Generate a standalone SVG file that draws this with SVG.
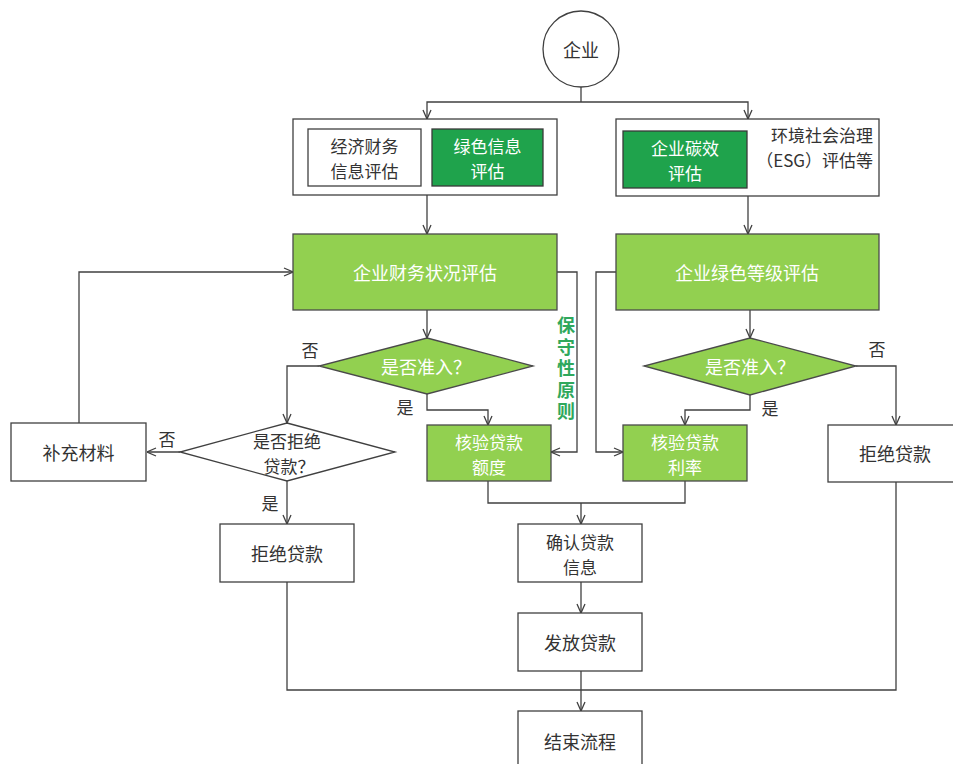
<svg xmlns="http://www.w3.org/2000/svg" width="953" height="764" viewBox="0 0 953 764">
<style>
text{font-family:"Noto Sans CJK SC","Liberation Serif",sans-serif;font-size:18px;text-anchor:middle;dominant-baseline:central}
.dk{fill:#333}
.wt{fill:#ffffff}
.two{font-size:17px}
.lbl{fill:#333;font-size:17px}
.box{fill:#ffffff;stroke:#404040;stroke-width:1.3}
.lg{fill:#92d050;stroke:#4a4a4a;stroke-width:1.3}
.dg{fill:#1fa34c;stroke:#3a3a3a;stroke-width:1.3}
.con{fill:none;stroke:#404040;stroke-width:1.3}
.arr{marker-end:url(#ah)}
.gt{fill:#2fa85c;font-weight:bold;font-size:18px;writing-mode:vertical-rl;letter-spacing:3.5px}
</style>
<defs>
<marker id="ah" markerWidth="10" markerHeight="10" viewBox="0 0 10 10" refX="10" refY="5" orient="auto" markerUnits="userSpaceOnUse">
<path d="M1,1 L10,5 L1,9" fill="none" stroke="#404040" stroke-width="1.3"/>
</marker>
</defs>
<rect width="953" height="764" fill="#ffffff"/>
<g id="connectors">
<path class="con" d="M581,87 V102"/>
<path class="con arr" d="M581,102 H427 V119"/>
<path class="con arr" d="M581,102 H748 V119"/>
<path class="con arr" d="M427,195 V234"/>
<path class="con arr" d="M748,196 V234"/>
<path class="con arr" d="M427,310 V338"/>
<path class="con arr" d="M750,310 V338"/>
<path class="con arr" d="M319,366 H287 V423"/>
<path class="con arr" d="M427,394 V410 H488 V425"/>
<path class="con arr" d="M180,452 H147"/>
<path class="con arr" d="M79,423 V272 H293"/>
<path class="con arr" d="M557,272 H577 V452 H551"/>
<path class="con arr" d="M616,272 H596 V452 H623"/>
<path class="con arr" d="M750,395 V410 H685 V425"/>
<path class="con arr" d="M856,366 H896 V425"/>
<path class="con arr" d="M287,481 V524"/>
<path class="con" d="M488,481 V503 H685 V481"/>
<path class="con arr" d="M581,503 V524"/>
<path class="con arr" d="M581,582 V613"/>
<path class="con arr" d="M581,671 V711"/>
<path class="con" d="M287,582 V690 H896 V482"/>
<text class="lbl" x="310" y="349">否</text>
<text class="lbl" x="405" y="406">是</text>
<text class="lbl" x="167" y="438">否</text>
<text class="lbl" x="270" y="502">是</text>
<text class="lbl" x="770" y="407">是</text>
<text class="lbl" x="877" y="348">否</text>
<text id="principle" class="gt" x="566" y="370">保守性原则</text>
</g>
<g id="n-enterprise">
<ellipse class="box" cx="581" cy="49" rx="38" ry="38"/>
<text class="dk" x="581" y="49">企业</text>
</g>
<g id="n-left-group">
<rect class="box" x="293" y="119" width="264" height="76"/>
</g>
<g id="n-econ">
<rect class="box" x="308" y="129" width="113" height="57"/>
<text class="dk two"><tspan x="364.5" y="145">经济财务</tspan><tspan x="364.5" y="170">信息评估</tspan></text>
</g>
<g id="n-greeninfo">
<rect class="dg" x="432" y="129" width="111" height="57"/>
<text class="wt two"><tspan x="487.5" y="145">绿色信息</tspan><tspan x="487.5" y="170">评估</tspan></text>
</g>
<g id="n-right-group">
<rect class="box" x="616" y="119" width="263" height="77"/>
<text class="dk two" style="text-anchor:end"><tspan x="873" y="134">环境社会治理</tspan><tspan x="873" y="159">（ESG）评估等</tspan></text>
</g>
<g id="n-carbon">
<rect class="dg" x="623" y="131" width="124" height="57"/>
<text class="wt two"><tspan x="685" y="147">企业碳效</tspan><tspan x="685" y="172">评估</tspan></text>
</g>
<g id="n-fin">
<rect class="lg" x="293" y="234" width="264" height="76"/>
<text class="wt" x="425" y="272">企业财务状况评估</text>
</g>
<g id="n-greenlevel">
<rect class="lg" x="616" y="234" width="263" height="76"/>
<text class="wt" x="747" y="272">企业绿色等级评估</text>
</g>
<g id="n-admit1">
<polygon class="lg" points="427,338 533,366 427,394 319,366"/>
<text class="wt" x="426" y="366">是否准入？</text>
</g>
<g id="n-admit2">
<polygon class="lg" points="750,338 856,366 750,395 644,366"/>
<text class="wt" x="750" y="366">是否准入？</text>
</g>
<g id="n-reject-q">
<polygon class="box" points="287,423 395,452 287,481 180,452"/>
<text class="dk two"><tspan x="287" y="440">是否拒绝</tspan><tspan x="289" y="465">贷款？</tspan></text>
</g>
<g id="n-supplement">
<rect class="box" x="11" y="423" width="135" height="58"/>
<text class="dk" x="78.5" y="452">补充材料</text>
</g>
<g id="n-amount">
<rect class="lg" x="427" y="425" width="124" height="56"/>
<text class="wt two"><tspan x="489" y="441">核验贷款</tspan><tspan x="489" y="466">额度</tspan></text>
</g>
<g id="n-rate">
<rect class="lg" x="623" y="425" width="124" height="56"/>
<text class="wt two"><tspan x="685" y="441">核验贷款</tspan><tspan x="685" y="466">利率</tspan></text>
</g>
<g id="n-reject-right">
<rect class="box" x="828" y="425" width="134" height="57"/>
<text class="dk" x="895" y="453">拒绝贷款</text>
</g>
<g id="n-reject-left">
<rect class="box" x="220" y="524" width="134" height="58"/>
<text class="dk" x="287" y="553">拒绝贷款</text>
</g>
<g id="n-confirm">
<rect class="box" x="518" y="524" width="124" height="58"/>
<text class="dk two"><tspan x="580" y="541">确认贷款</tspan><tspan x="580" y="566">信息</tspan></text>
</g>
<g id="n-issue">
<rect class="box" x="518" y="613" width="124" height="58"/>
<text class="dk" x="580" y="642">发放贷款</text>
</g>
<g id="n-end">
<rect class="box" x="518" y="711" width="124" height="60"/>
<text class="dk" x="580" y="741">结束流程</text>
</g>
</svg>
